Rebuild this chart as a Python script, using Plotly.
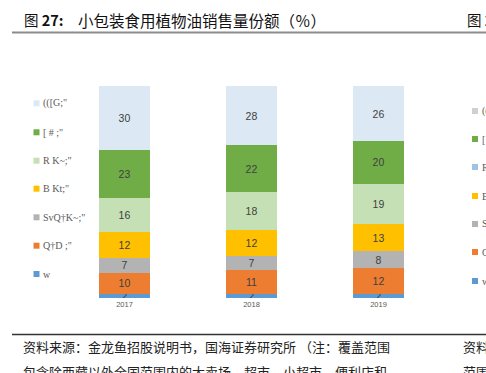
import plotly.graph_objects as go

W, H = 486, 373

years = ["2017", "2018", "2019"]
# series, bottom to top
series_names = ["w", "Q†D ;\"", "SvQ†K~;\"", "B Kt;\"", "R K~;\"", "[ # ;\"", "(([G;\""]
v_w = [2, 2, 2]
v_q = [10, 11, 12]
v_s = [7, 7, 8]
v_b = [12, 12, 13]
v_r = [16, 18, 19]
v_g = [23, 22, 20]
v_top = [30, 28, 26]
series_values = [v_w, v_q, v_s, v_b, v_r, v_g, v_top]
colors = ["#5B9BD5", "#ED7D31", "#B3B3B3", "#FFC000", "#C5E0B4", "#70AD47", "#DDE8F5"]

# partially visible neighbour legend on the right edge
right_names = ["((", "[", "R", "B", "S", "Q", "w"]
right_colors = ["#D0D0D0", "#70AD47", "#9DC3E6", "#FFC000", "#B3B3B3", "#ED7D31", "#5B9BD5"]

title_prefix = "图 <b>27:</b>"
title_main = "小包装食用植物油销售量份额（％）"
source_line1 = "资料来源：金龙鱼招股说明书，国海证券研究所 （注：覆盖范围"
source_line2 = "包含除西藏以外全国范围内的大卖场、超市、小超市、便利店和"


def px(x):
    return x / W


def py(y):
    return 1 - y / H


fig = go.Figure()
for name, vals, col in zip(series_names, series_values, colors):
    fig.add_trace(go.Bar(
        x=years, y=vals, name=name, marker=dict(color=col, line=dict(width=0)),
        text=[str(v) for v in vals], textposition="inside", insidetextanchor="middle",
        textangle=0,
        textfont=dict(family="Liberation Sans, Arial", size=10.5, color="#404040"),
        constraintext="none", showlegend=False, hoverinfo="skip",
    ))

shapes = []
annotations = []

# left legend
leg_y = [103.3, 132.3, 160.7, 188.7, 217.3, 245.7, 274.0]
for i, (name, col) in enumerate(zip(series_names[::-1], colors[::-1])):
    yc = leg_y[i]
    shapes.append(dict(type="rect", xref="paper", yref="paper",
                       x0=px(33.5), x1=px(39.5), y0=py(yc + 3), y1=py(yc - 3),
                       fillcolor=col, line=dict(width=0)))
    annotations.append(dict(text=name, xref="paper", yref="paper", x=px(41), y=py(yc),
                            xanchor="left", yanchor="middle", showarrow=False,
                            font=dict(family="Liberation Serif, Times New Roman", size=10, color="#595959")))

# right partial legend
r_y = [111, 139, 167, 196, 224, 252, 281]
for i, (name, col) in enumerate(zip(right_names, right_colors)):
    yc = r_y[i]
    shapes.append(dict(type="rect", xref="paper", yref="paper",
                       x0=px(472), x1=px(478), y0=py(yc + 3), y1=py(yc - 3),
                       fillcolor=col, line=dict(width=0)))
    annotations.append(dict(text=name, xref="paper", yref="paper", x=px(480), y=py(yc),
                            xanchor="left", yanchor="middle", showarrow=False,
                            font=dict(family="Liberation Serif, Times New Roman", size=10, color="#595959")))

# header / footer rules
shapes.append(dict(type="line", xref="paper", yref="paper", x0=px(12), x1=px(486),
                   y0=py(32.5), y1=py(32.5), line=dict(color="#8C8C8C", width=2)))
shapes.append(dict(type="line", xref="paper", yref="paper", x0=px(12), x1=px(486),
                   y0=py(334.5), y1=py(334.5), line=dict(color="#333333", width=1.3)))

cjk = "Noto Sans CJK SC"
annotations.append(dict(text=title_prefix, xref="paper", yref="paper", x=px(22), y=py(19.5),
                        xanchor="left", yanchor="middle", showarrow=False,
                        font=dict(family=cjk, size=14.5, color="#111111")))
annotations.append(dict(text=title_main, xref="paper", yref="paper", x=px(76), y=py(19.5),
                        xanchor="left", yanchor="middle", showarrow=False,
                        font=dict(family=cjk, size=15.5, color="#111111")))
annotations.append(dict(text="图 <b>27</b>", xref="paper", yref="paper", x=px(465), y=py(19.5),
                        xanchor="left", yanchor="middle", showarrow=False,
                        font=dict(family=cjk, size=14.5, color="#111111")))
annotations.append(dict(text=source_line1, xref="paper", yref="paper", x=px(21), y=py(346),
                        xanchor="left", yanchor="middle", showarrow=False,
                        font=dict(family=cjk, size=13, color="#222222")))
annotations.append(dict(text=source_line2, xref="paper", yref="paper", x=px(21), y=py(371),
                        xanchor="left", yanchor="middle", showarrow=False,
                        font=dict(family=cjk, size=13, color="#222222")))
annotations.append(dict(text="资料", xref="paper", yref="paper", x=px(461), y=py(346),
                        xanchor="left", yanchor="middle", showarrow=False,
                        font=dict(family=cjk, size=13, color="#222222")))
annotations.append(dict(text="范围", xref="paper", yref="paper", x=px(461), y=py(371),
                        xanchor="left", yanchor="middle", showarrow=False,
                        font=dict(family=cjk, size=13, color="#222222")))

fig.update_layout(
    width=W, height=H, barmode="stack", bargap=0.6,
    margin=dict(l=0, r=0, t=0, b=0),
    paper_bgcolor="white", plot_bgcolor="white",
    uniformtext=dict(minsize=10.5, mode="show"),
    xaxis=dict(domain=[61 / W, 442 / W], range=[-0.5, 2.5], type="category",
               showgrid=False, showline=False, zeroline=False, ticks="",
               fixedrange=True,
               tickfont=dict(family="Liberation Sans, Arial", size=7.5, color="#595959")),
    yaxis=dict(domain=[1 - 298 / H, 1 - 86 / H], range=[0, 100], visible=False, fixedrange=True),
    shapes=shapes, annotations=annotations, showlegend=False, hovermode=False,
)

fig.write_html("out.html", config=dict(displayModeBar=False, staticPlot=True),
               post_script="document.body.style.margin='0';document.body.style.overflow='hidden';")
